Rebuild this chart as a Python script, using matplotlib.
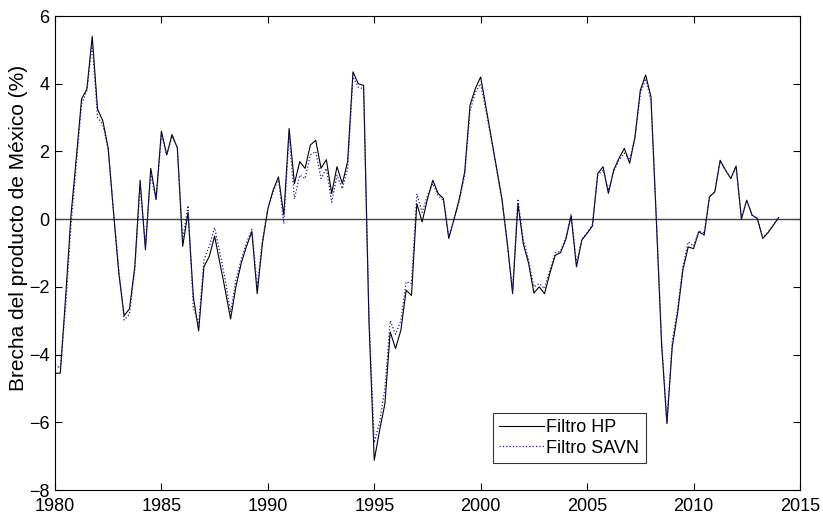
import numpy as np
import matplotlib
matplotlib.use("Agg")
import matplotlib.pyplot as plt

# ---------------------------------------------------------------
# data: quarterly output gap for Mexico, 1980Q1 .. 2014Q1 (%)
# ---------------------------------------------------------------
start_year = 1980
hp_gap = [
    -4.55, -4.55, -2.30, 0.10,      # 1980
    1.80, 3.55, 3.85, 5.40,         # 1981
    3.25, 2.90, 2.10, 0.20,         # 1982
    -1.60, -2.85, -2.65, -1.40,     # 1983
    1.15, -0.90, 1.50, 0.60,        # 1984
    2.60, 1.90, 2.50, 2.10,         # 1985
    -0.80, 0.20, -2.30, -3.30,      # 1986
    -1.40, -1.10, -0.50, -1.30,     # 1987
    -2.10, -2.95, -2.00, -1.30,     # 1988
    -0.80, -0.37, -2.20, -0.70,     # 1989
    0.30, 0.86, 1.25, 0.12,         # 1990
    2.68, 1.05, 1.70, 1.50,         # 1991
    2.19, 2.33, 1.50, 1.76,         # 1992
    0.76, 1.55, 1.05, 1.70,         # 1993
    4.35, 4.00, 3.95, -3.00,        # 1994
    -7.12, -6.24, -5.45, -3.33,     # 1995
    -3.82, -3.28, -2.10, -2.25,     # 1996
    0.46, -0.08, 0.60, 1.15,        # 1997
    0.76, 0.61, -0.57, 0.00,        # 1998
    0.61, 1.40, 3.37, 3.86,         # 1999
    4.20, 3.30, 2.40, 1.50,         # 2000
    0.60, -0.70, -2.20, 0.46,       # 2001
    -0.72, -1.30, -2.18, -2.00,     # 2002
    -2.20, -1.60, -1.07, -0.99,     # 2003
    -0.60, 0.10, -1.41, -0.62,      # 2004
    -0.42, -0.20, 1.35, 1.55,       # 2005
    0.76, 1.45, 1.80, 2.09,         # 2006
    1.65, 2.43, 3.81, 4.26,         # 2007
    3.62, 0.00, -3.70, -6.04,       # 2008
    -3.77, -2.78, -1.50, -0.82,     # 2009
    -0.87, -0.37, -0.47, 0.66,      # 2010
    0.81, 1.74, 1.45, 1.20,         # 2011
    1.57, 0.00, 0.56, 0.12,         # 2012
    0.02, -0.57, -0.40, -0.18,      # 2013
    0.05,                           # 2014
]
savn_gap = [
    -4.30, -4.40, -2.60, -0.20,     # 1980
    1.60, 3.40, 3.80, 5.20,         # 1981
    3.00, 2.80, 2.05, 0.25,         # 1982
    -1.50, -2.98, -2.80, -1.50,     # 1983
    1.00, -0.80, 1.35, 0.55,        # 1984
    2.50, 1.90, 2.45, 2.10,         # 1985
    -0.60, 0.40, -2.60, -3.10,      # 1986
    -1.20, -0.80, -0.25, -1.00,     # 1987
    -1.80, -2.75, -1.80, -1.20,     # 1988
    -0.70, -0.30, -2.00, -0.60,     # 1989
    0.30, 0.80, 1.20, -0.13,        # 1990
    2.50, 0.60, 1.30, 1.20,         # 1991
    1.90, 2.00, 1.20, 1.50,         # 1992
    0.50, 1.30, 0.90, 1.50,         # 1993
    4.20, 3.90, 3.85, -2.80,        # 1994
    -6.60, -6.00, -5.00, -3.00,     # 1995
    -3.40, -3.00, -1.85, -1.90,     # 1996
    0.75, 0.20, 0.70, 1.05,         # 1997
    0.70, 0.55, -0.50, 0.00,        # 1998
    0.55, 1.30, 3.20, 3.75,         # 1999
    4.00, 3.20, 2.35, 1.45,         # 2000
    0.55, -0.75, -2.10, 0.60,       # 2001
    -0.60, -1.20, -2.00, -1.90,     # 2002
    -2.05, -1.50, -1.00, -0.95,     # 2003
    -0.55, 0.15, -1.30, -0.60,      # 2004
    -0.40, -0.15, 1.30, 1.45,       # 2005
    0.85, 1.40, 1.75, 1.95,         # 2006
    1.75, 2.40, 3.70, 4.15,         # 2007
    3.50, 0.10, -3.60, -6.00,       # 2008
    -3.60, -2.65, -1.40, -0.67,     # 2009
    -0.80, -0.35, -0.40, 0.66,      # 2010
    0.80, 1.70, 1.45, 1.20,         # 2011
    1.55, 0.05, 0.55, 0.12,         # 2012
    0.02, -0.55, -0.38, -0.17,      # 2013
    0.05,                           # 2014
]

years = start_year + np.arange(len(hp_gap)) / 4.0

# ---------------------------------------------------------------
# figure
# ---------------------------------------------------------------
plt.rcParams['font.family'] = ['Liberation Sans', 'DejaVu Sans']
fig = plt.figure(figsize=(8.23, 5.17), dpi=100)
ax = fig.add_axes([0.0668, 0.0522, 0.9052, 0.9168])

ax.axhline(0, color='#444444', linewidth=1.0)
ax.plot(years, hp_gap, color='black', linewidth=0.8, label='Filtro HP')
ax.plot(years, savn_gap, color='#1a1aa0', linestyle=':', linewidth=0.9,
        label='Filtro SAVN')

ax.set_xlim(1980, 2015)
ax.set_ylim(-8, 6)
ax.set_xticks(np.arange(1980, 2016, 5))
ax.set_yticks(np.arange(-8, 7, 2))
ax.tick_params(direction='in', top=True, right=True, length=5,
               labelsize=13, width=0.8)
ax.tick_params(axis='x', pad=6)
ax.tick_params(axis='y', pad=4)
for spine in ax.spines.values():
    spine.set_linewidth(0.8)
ax.set_ylabel('Brecha del producto de México (%)', fontsize=15)
ax.yaxis.set_label_coords(-0.036, 0.553)

leg = ax.legend(loc='lower left', bbox_to_anchor=(0.588, 0.057),
                fontsize=13, frameon=True, fancybox=False,
                edgecolor='black', handlelength=2.5, borderpad=0.35,
                labelspacing=0.2, handletextpad=0.1, borderaxespad=0)
leg.get_frame().set_linewidth(0.8)

fig.savefig('out.png', dpi=100)
